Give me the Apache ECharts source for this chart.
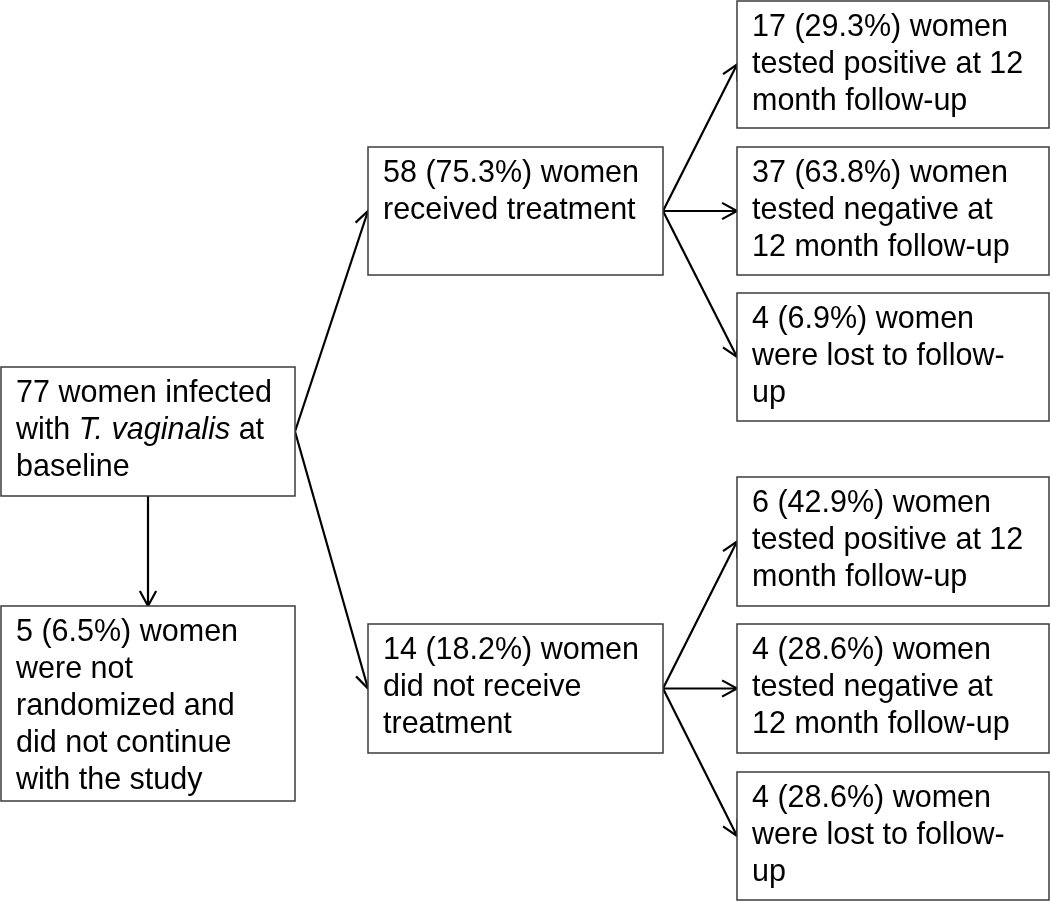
<!DOCTYPE html>
<html><head><meta charset="utf-8">
<script src="https://cdn.jsdelivr.net/npm/echarts@6/dist/echarts.min.js"></script>
<style>html,body{margin:0;padding:0;background:#fff;font-family:'Liberation Sans',Arial,sans-serif}#c{width:1050px;height:901px}</style>
</head><body><div id="c"></div>
<script>
// ---- data ----
const boxLabels = [
  '77 women infected\nwith {i|T. vaginalis} at\nbaseline',
  '5 (6.5%) women\nwere not\nrandomized and\ndid not continue\nwith the study',
  '58 (75.3%) women\nreceived treatment',
  '14 (18.2%) women\ndid not receive\ntreatment',
  '17 (29.3%) women\ntested positive at 12\nmonth follow-up',
  '37 (63.8%) women\ntested negative at\n12 month follow-up',
  '4 (6.9%) women\nwere lost to follow-\nup',
  '6 (42.9%) women\ntested positive at 12\nmonth follow-up',
  '4 (28.6%) women\ntested negative at\n12 month follow-up',
  '4 (28.6%) women\nwere lost to follow-\nup'
];
const linkFrom = [0, 0, 0, 2, 2, 2, 3, 3, 3];
const linkTo   = [1, 2, 3, 4, 5, 6, 7, 8, 9];

// ---- layout (positions in the hidden axes' units) ----
const layout = {
  cols: [[1, 295], [368, 663], [737, 1049]],
  boxes: [
    {col: 0, y: [367, 496]},
    {col: 0, y: [606, 801]},
    {col: 1, y: [147, 275]},
    {col: 1, y: [624, 753]},
    {col: 2, y: [1, 128]},
    {col: 2, y: [147, 275]},
    {col: 2, y: [293, 421]},
    {col: 2, y: [477, 606]},
    {col: 2, y: [624, 753]},
    {col: 2, y: [772, 900]}
  ]
};
const FONT = 'Liberation Sans';

function anchor(i, side) {
  const b = layout.boxes[i], c = layout.cols[b.col];
  const my = (b.y[0] + b.y[1]) / 2, mx = (c[0] + c[1]) / 2;
  if (side === 'right') return [c[1], my];
  if (side === 'left') return [c[0], my];
  if (side === 'bottom') return [mx, b.y[1]];
  return [mx, b.y[0]];
}

const chart = echarts.init(document.getElementById('c'), null, {renderer: 'canvas'});
chart.setOption({
  backgroundColor: '#fff',
  animation: false,
  textStyle: {fontFamily: FONT},
  grid: {left: 0, right: 0, top: 0, bottom: 0},
  xAxis: {type: 'value', min: 0, max: 1050, show: false},
  yAxis: {type: 'value', min: 0, max: 901, inverse: true, show: false},
  series: [
    {
      type: 'custom',
      coordinateSystem: 'cartesian2d',
      clip: false,
      silent: true,
      data: linkFrom.map((f, k) => [f, linkTo[k]]),
      renderItem: function (params, api) {
        const s = api.value(0), t = api.value(1);
        const sameCol = layout.boxes[s].col === layout.boxes[t].col;
        const p = api.coord(anchor(s, sameCol ? 'bottom' : 'right'));
        const q = api.coord(anchor(t, sameCol ? 'top' : 'left'));
        const ang = Math.atan2(q[1] - p[1], q[0] - p[0]);
        const L = 17, a = 0.5;
        const h1 = [q[0] - L * Math.cos(ang - a), q[1] - L * Math.sin(ang - a)];
        const h2 = [q[0] - L * Math.cos(ang + a), q[1] - L * Math.sin(ang + a)];
        const st = {stroke: '#000', lineWidth: 2.2, fill: null, lineJoin: 'miter'};
        return {type: 'group', children: [
          {type: 'line', shape: {x1: p[0], y1: p[1], x2: q[0], y2: q[1]}, style: st},
          {type: 'polyline', shape: {points: [h1, q, h2]}, style: st}
        ]};
      }
    },
    {
      type: 'custom',
      coordinateSystem: 'cartesian2d',
      clip: false,
      silent: true,
      data: boxLabels.map((t, i) => [i, 0]),
      renderItem: function (params, api) {
        const i = api.value(0);
        const b = layout.boxes[i], c = layout.cols[b.col];
        const p0 = api.coord([c[0], b.y[0]]), p1 = api.coord([c[1], b.y[1]]);
        return {type: 'group', children: [
          {type: 'rect', shape: {x: p0[0], y: p0[1], width: p1[0] - p0[0], height: p1[1] - p0[1]},
           style: {fill: '#fff', stroke: '#3c3c3c', lineWidth: 1.5}},
          {type: 'text', x: p0[0] + 15, y: p0[1] + 8,
           style: {text: boxLabels[i], fontSize: 30.5, fontFamily: FONT, fill: '#000',
                   lineHeight: 37, align: 'left', verticalAlign: 'top',
                   rich: {i: {fontStyle: 'italic', fontSize: 30.5, fontFamily: FONT, fill: '#000', lineHeight: 37}}}}
        ]};
      }
    }
  ]
});
</script>
</body></html>
